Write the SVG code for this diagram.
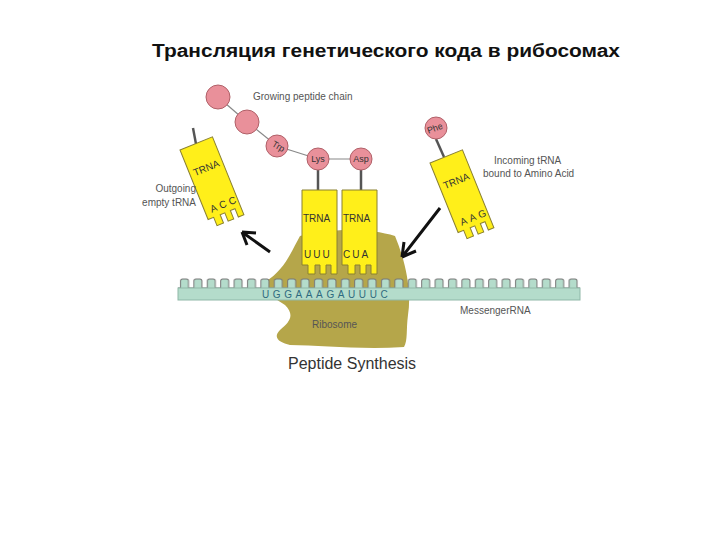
<svg xmlns="http://www.w3.org/2000/svg" width="720" height="540" viewBox="0 0 720 540">
<defs>
<style>
.t{font-family:"Liberation Sans",Arial,sans-serif;fill:#555;font-size:10px}
.aa{fill:#e9909a;stroke:#b06068;stroke-width:1}
.aat{font-family:"Liberation Sans",Arial,sans-serif;font-size:9px;fill:#333;text-anchor:middle}
.trna{fill:#ffef1a;stroke:#8a8030;stroke-width:1}
.tt{font-family:"Liberation Sans",Arial,sans-serif;font-size:10px;fill:#333}
.ln{stroke:#888;stroke-width:1.2}
.stem{stroke:#555;stroke-width:2.5}
.arr{stroke:#111;stroke-width:3;fill:none}
</style>
<g id="trnaShape">
<path class="trna" d="M0,0 H35 V84 H29 V75 H24 V84 H18 V75 H13 V84 H6 V75 H0 Z"/>
</g>
<pattern id="teeth" x="178" y="278" width="13.4" height="12" patternUnits="userSpaceOnUse">
<path d="M0,10 H2.5 V3 Q2.5,1 4.5,1 H8.5 Q10.5,1 10.5,3 V10 H13.4 V12 H0 Z" fill="#b4dccb" stroke="#777" stroke-width="1"/>
</pattern>
</defs>
<text x="386" y="57" text-anchor="middle" font-family="Liberation Sans,Arial,sans-serif" font-size="18" font-weight="bold" fill="#111" textLength="468" lengthAdjust="spacingAndGlyphs">Трансляция генетического кода в рибосомах</text>

<g id="ribosome"><path d="M265,282 C285,270 292,250 300,236 C330,228 370,228 395,236 C405,260 412,290 408,315 C406,330 408,340 404,347 C360,350 320,345 290,345 C280,343 272,338 280,330 C290,322 295,315 285,305 C275,298 262,292 265,282 Z" fill="#b5a64a"/></g>

<g id="mrna">
<rect x="178" y="278" width="402" height="11" fill="url(#teeth)"/>
<rect x="178" y="288" width="402" height="12" fill="#b4dccb" stroke="#8fb8a8"/>
<text x="262" y="298" font-family="Liberation Sans,Arial,sans-serif" font-size="10" fill="#2f6a80" letter-spacing="3.6">UGGAAAGAUUUC</text>
</g>

<g id="connectors">
<line class="ln" x1="218" y1="97" x2="247" y2="122"/>
<line class="ln" x1="247" y1="122" x2="277" y2="146"/>
<line class="ln" x1="277" y1="146" x2="318" y2="159"/>
<line class="ln" x1="318" y1="159" x2="361" y2="159"/>
<line class="stem" x1="318" y1="170" x2="318" y2="190"/>
<line class="stem" x1="361" y1="170" x2="361" y2="190"/>
<line class="stem" x1="436" y1="139" x2="444" y2="157"/>
<line class="stem" x1="193" y1="128" x2="196" y2="144"/>
<path class="arr" d="M270,252 L242,232 M242,232 L256,233 M242,232 L247,245"/>
<path class="arr" d="M440,208 L402,257 M402,257 L404,242 M402,257 L416,251"/>
</g>

<g id="chain">
<circle class="aa" cx="218" cy="97" r="12"/>
<circle class="aa" cx="247" cy="122" r="12"/>
<circle class="aa" cx="277" cy="146" r="11"/><text class="aat" transform="translate(277,149) rotate(30)">Trp</text>
<circle class="aa" cx="318" cy="159" r="11"/><text class="aat" x="318" y="162">Lys</text>
<circle class="aa" cx="361" cy="159" r="11"/><text class="aat" x="361" y="162">Asp</text>
<text class="t" x="253" y="100">Growing peptide chain</text>
</g>

<g id="trna-p">
<use href="#trnaShape" x="302" y="190"/>
<text class="tt" x="303" y="222">TRNA</text>
<text class="tt" x="304" y="258" letter-spacing="2">UUU</text>
</g>
<g id="trna-a">
<use href="#trnaShape" x="342" y="190"/>
<text class="tt" x="343" y="222">TRNA</text>
<text class="tt" x="343" y="258" letter-spacing="2">CUA</text>
</g>

<g id="trna-out" transform="translate(180,150) rotate(-22)">
<use href="#trnaShape" x="0" y="0"/>
<text class="tt" x="4" y="30">TRNA</text>
<text class="tt" x="6" y="70" letter-spacing="3">ACC</text>
</g>
<text class="t" x="196" y="192" text-anchor="end">Outgoing</text>
<text class="t" x="196" y="206" text-anchor="end">empty tRNA</text>

<g id="trna-in" transform="translate(430,163) rotate(-22)">
<use href="#trnaShape" x="0" y="0"/>
<text class="tt" x="4" y="30">TRNA</text>
<text class="tt" x="6" y="70" letter-spacing="3">AAG</text>
</g>
<g id="phe"><circle class="aa" cx="436" cy="128" r="11"/><text class="aat" transform="translate(436,131) rotate(-20)">Phe</text></g>
<text class="t" x="494" y="164">Incoming  tRNA</text>
<text class="t" x="483" y="177">bound to Amino Acid</text>

<text class="t" x="460" y="314">MessengerRNA</text>
<text class="t" x="312" y="328" fill="#444">Ribosome</text>
<text x="288" y="369" font-family="Liberation Sans,Arial,sans-serif" font-size="16" fill="#333">Peptide Synthesis</text>
</svg>
